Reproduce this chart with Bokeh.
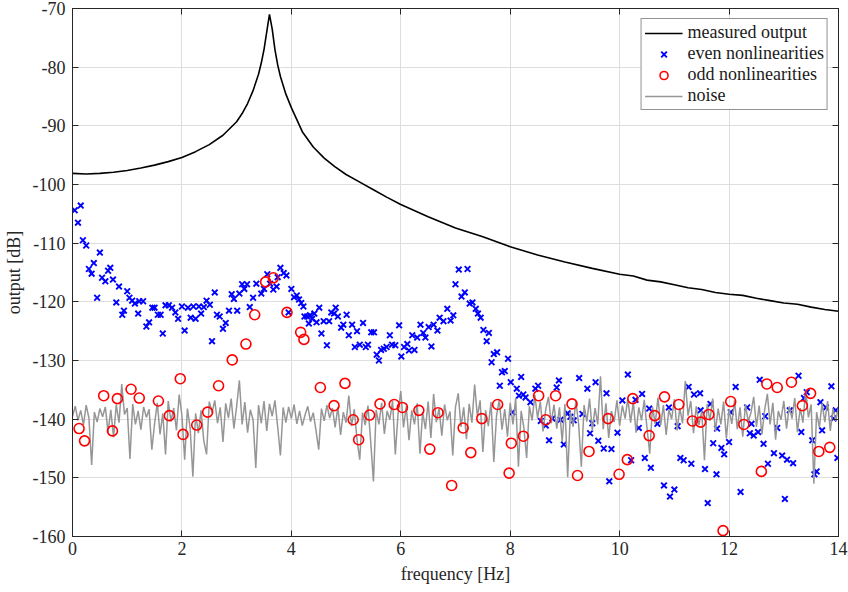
import numpy as np
from bokeh.plotting import figure
from bokeh.models import LinearAxis, Range1d, Legend, LegendItem, FixedTicker
from bokeh.embed import file_html
from bokeh.resources import INLINE

# ---------------- data ----------------
out_freq = [0.0, 0.25, 0.5, 0.75, 1.0, 1.25, 1.5, 1.75, 2.0, 2.25, 2.5, 2.75, 3.0, 3.1, 3.2, 3.3,
            3.4, 3.45, 3.5, 3.55, 3.6, 3.65, 3.7, 3.75, 3.8, 3.9, 4.0, 4.2, 4.4, 4.6, 4.8, 5.0,
            5.25, 5.5, 5.75, 6.0, 6.5, 7.0, 7.5, 8.0, 8.5, 9.0, 9.5, 10.0, 10.25, 10.5, 10.75,
            11.0, 11.25, 11.5, 11.75, 12.0, 12.25, 12.5, 12.75, 13.0, 13.25, 13.5, 13.75, 14.0]
out_db = [-98.1, -98.2, -98.1, -97.9, -97.6, -97.2, -96.7, -96.1, -95.4, -94.4, -93.2, -91.6,
          -89.3, -87.9, -86.2, -84.0, -81.2, -79.3, -77.0, -74.0, -71.0, -73.5, -77.0, -79.6,
          -81.6, -84.6, -86.9, -91.0, -93.6, -95.5, -97.0, -98.3, -99.6, -100.9, -102.2, -103.4,
          -105.5, -107.4, -108.9, -110.6, -112.0, -113.2, -114.3, -115.3, -115.6, -116.3, -116.6,
          -117.1, -117.6, -117.9, -118.4, -118.7, -118.9, -119.4, -119.8, -120.2, -120.4, -120.9,
          -121.3, -121.6]

even_freq = [0.04, 0.10, 0.15, 0.19, 0.25, 0.30, 0.35, 0.39, 0.45, 0.50, 0.54, 0.60, 0.65, 0.69,
             0.74, 0.80, 0.85, 0.91, 0.94, 1.00, 1.04, 1.09, 1.14, 1.20, 1.22, 1.29, 1.35, 1.40,
             1.46, 1.50, 1.56, 1.61, 1.65, 1.70, 1.76, 1.82, 1.88, 1.93, 2.00, 2.05, 2.11, 2.16,
             2.21, 2.25, 2.31, 2.35, 2.40, 2.45, 2.51, 2.55, 2.60, 2.64, 2.69, 2.75, 2.80, 2.86,
             2.91, 2.95, 3.01, 3.05, 3.10, 3.14, 3.19, 3.24, 3.30, 3.36, 3.45, 3.50, 3.56, 3.61,
             3.67, 3.73, 3.75, 3.80, 3.86, 3.91, 3.95, 4.00, 4.05, 4.10, 4.14, 4.18, 4.22, 4.24,
             4.29, 4.32, 4.34, 4.38, 4.42, 4.46, 4.51, 4.55, 4.59, 4.65, 4.69, 4.73, 4.78, 4.81,
             4.85, 4.91, 4.95, 5.01, 5.05, 5.11, 5.16, 5.20, 5.25, 5.31, 5.36, 5.40, 5.46, 5.51,
             5.56, 5.60, 5.64, 5.69, 5.74, 5.80, 5.84, 5.90, 5.97, 6.01, 6.06, 6.12, 6.15, 6.21,
             6.25, 6.30, 6.36, 6.41, 6.45, 6.51, 6.56, 6.60, 6.67, 6.71, 6.78, 6.85, 6.91, 6.96,
             7.00, 7.06, 7.11, 7.17, 7.22, 7.26, 7.31, 7.37, 7.41, 7.46, 7.51, 7.57, 7.61, 7.66,
             7.70, 7.76, 7.81, 7.85, 7.90, 7.96, 8.01, 8.04, 8.12, 8.16, 8.20, 8.24, 8.28, 8.37,
             8.46, 8.51, 8.56, 8.65, 8.71, 8.77, 8.85, 8.89, 8.92, 8.98, 9.05, 9.10, 9.16, 9.26,
             9.32, 9.41, 9.46, 9.50, 9.56, 9.61, 9.71, 9.76, 9.81, 9.85, 9.96, 10.05, 10.15, 10.21,
             10.29, 10.35, 10.41, 10.46, 10.54, 10.57, 10.69, 10.81, 10.90, 10.92, 11.00, 11.06,
             11.11, 11.17, 11.26, 11.31, 11.36, 11.47, 11.48, 11.56, 11.61, 11.66, 11.71, 11.77,
             11.78, 11.86, 11.91, 12.00, 12.03, 12.12, 12.21, 12.33, 12.38, 12.41, 12.45, 12.53,
             12.56, 12.63, 12.66, 12.71, 12.82, 12.88, 12.97, 13.02, 13.06, 13.11, 13.17, 13.27,
             13.32, 13.37, 13.42, 13.52, 13.56, 13.60, 13.67, 13.70, 13.77, 13.87, 13.91, 13.95,
             13.98]
even_db = [-104.4, -106.5, -103.6, -109.5, -110.4, -114.4, -115.2, -113.4, -119.3, -111.6, -115.9,
           -116.5, -114.7, -114.2, -116.2, -120.1, -117.4, -122.2, -121.5, -118.2, -119.3, -119.8,
           -120.3, -122.0, -119.9, -119.9, -124.2, -123.5, -121.0, -121.0, -122.2, -122.2, -125.4,
           -120.6, -120.6, -121.0, -121.8, -122.9, -120.8, -124.9, -121.0, -122.7, -120.8, -122.9,
           -120.8, -122.0, -120.9, -119.8, -120.5, -126.7, -118.4, -122.2, -122.5, -124.6, -123.6,
           -121.5, -118.7, -119.5, -121.5, -118.6, -117.0, -117.8, -117.0, -120.9, -119.3, -116.9,
           -118.6, -117.8, -115.3, -116.9, -117.9, -117.4, -115.8, -114.2, -115.1, -115.5, -121.8,
           -117.8, -119.2, -118.9, -119.6, -120.2, -120.8, -122.5, -122.5, -123.7, -122.3, -122.9,
           -122.0, -123.5, -121.0, -125.4, -123.3, -127.4, -123.3, -121.8, -122.0, -121.0, -122.5,
           -124.4, -123.9, -122.2, -125.7, -123.9, -127.7, -125.0, -127.3, -123.6, -127.7, -127.3,
           -125.2, -125.2, -129.0, -130.0, -128.2, -128.0, -127.7, -125.7, -127.3, -127.4, -124.0,
           -129.3, -127.7, -127.2, -128.3, -125.7, -128.2, -126.1, -123.9, -125.3, -126.1, -124.3,
           -127.6, -123.9, -124.9, -122.7, -123.3, -121.2, -123.2, -122.3, -117.0, -114.5, -119.1,
           -118.4, -114.4, -120.3, -120.1, -121.2, -122.0, -122.7, -124.8, -126.7, -125.3, -130.3,
           -128.9, -128.6, -134.3, -132.0, -131.8, -129.7, -133.7, -138.8, -134.8, -136.0, -132.8,
           -135.8, -136.3, -137.1, -134.8, -134.3, -140.3, -141.1, -143.6, -139.9, -134.6, -133.4,
           -140.1, -144.3, -139.0, -139.6, -140.2, -133.0, -139.1, -134.8, -142.4, -140.7, -133.7,
           -143.7, -145.0, -135.6, -150.6, -145.1, -142.3, -136.8, -132.4, -147.0, -136.7, -141.5,
           -135.7, -146.6, -138.2, -148.3, -140.8, -151.3, -138.0, -153.2, -152.0, -141.2, -146.6,
           -147.0, -134.5, -147.6, -135.8, -135.6, -138.5, -148.5, -154.3, -137.4, -144.1, -149.4,
           -141.6, -144.9, -146.0, -143.9, -138.8, -134.5, -152.4, -138.0, -142.4, -140.8, -142.8,
           -142.2, -133.3, -144.2, -139.5, -147.6, -145.8, -141.5, -146.2, -153.6, -146.9, -138.5,
           -147.5, -132.6, -142.2, -136.4, -135.4, -143.6, -149.4, -148.9, -137.1, -141.9, -138.0,
           -134.4, -139.9, -138.5, -146.6]

odd_freq = [0.12, 0.22, 0.57, 0.73, 0.82, 1.07, 1.22, 1.57, 1.77, 1.97, 2.02, 2.27, 2.47, 2.67,
            2.92, 3.17, 3.33, 3.53, 3.67, 3.92, 4.17, 4.23, 4.53, 4.78, 4.98, 5.13, 5.23, 5.43,
            5.62, 5.88, 6.03, 6.33, 6.53, 6.68, 6.93, 7.14, 7.28, 7.48, 7.77, 7.98, 8.02, 8.24,
            8.52, 8.65, 8.83, 9.13, 9.23, 9.44, 9.79, 9.99, 10.14, 10.24, 10.54, 10.64, 10.82,
            11.08, 11.33, 11.48, 11.63, 11.89, 12.03, 12.27, 12.59, 12.69, 12.88, 13.14, 13.34,
            13.49, 13.64, 13.84]
odd_db = [-141.6, -143.7, -136.0, -142.0, -136.5, -134.9, -136.4, -136.9, -139.4, -133.1, -142.6,
          -141.0, -138.8, -134.3, -129.9, -127.2, -122.2, -116.6, -115.9, -121.8, -125.2, -126.4,
          -134.6, -137.7, -133.9, -140.1, -143.5, -139.3, -137.4, -137.5, -138.0, -138.5, -145.1,
          -138.9, -151.3, -141.5, -145.7, -139.9, -137.5, -149.2, -144.1, -142.9, -136.0, -140.1,
          -136.0, -137.4, -149.6, -145.5, -139.9, -149.4, -146.9, -136.5, -142.8, -139.4, -136.2,
          -137.5, -140.3, -140.5, -139.2, -159.0, -137.0, -140.9, -148.9, -134.0, -134.6, -133.7,
          -137.7, -135.6, -145.5, -144.8]

# noise floor, one value every 0.05 Hz from 0 to 14 Hz
noise_db = [
    -139.5, -137.8, -140.2, -138.5, -141.0, -137.6, -139.8, -147.8, -138.8, -140.5,
    -138.2, -139.6, -137.9, -142.3, -138.4, -143.1, -137.5, -140.6, -134.0, -139.2,
    -138.1, -146.8, -137.4, -140.9, -138.6, -141.8, -137.9, -139.7, -138.3, -145.2,
    -140.8, -137.2, -142.6, -139.0, -146.0, -136.9, -140.4, -138.1, -141.9, -135.8,
    -139.4, -146.9, -138.2, -141.5, -149.8, -139.0, -142.4, -138.5, -143.7, -146.0,
    -137.0, -138.9, -136.8, -140.7, -138.0, -143.9, -137.3, -139.8, -136.5, -141.6,
    -137.8, -133.4, -140.9, -137.1, -142.3, -138.4, -140.1, -148.3, -137.6, -140.7,
    -136.9, -142.0, -137.4, -139.5, -136.8, -141.3, -146.2, -138.0, -140.6, -137.9,
    -139.9, -137.5, -140.8, -138.6, -141.1, -139.3, -137.8, -140.4, -138.9, -141.9,
    -145.2, -138.2, -140.3, -137.6, -139.8, -138.1, -141.4, -137.9, -142.7, -138.8,
    -140.6, -136.0, -141.2, -138.3, -143.5, -146.9, -138.9, -141.0, -137.7, -143.8,
    -150.6, -138.4, -140.9, -137.2, -142.5, -138.6, -140.1, -136.9, -146.0, -139.1,
    -135.2, -141.4, -137.8, -143.6, -138.5, -140.9, -137.3, -145.9, -138.8, -141.7,
    -137.0, -143.2, -135.7, -140.5, -138.2, -142.8, -137.5, -140.2, -138.7, -146.2,
    -137.9, -135.6, -141.3, -138.0, -143.4, -137.4, -140.6, -134.1, -139.6, -136.8,
    -145.6, -138.5, -141.2, -137.1, -147.3, -139.4, -136.7, -141.8, -138.3, -143.0,
    -137.2, -140.9, -136.4, -148.1, -138.6, -141.5, -146.6, -137.8, -140.2, -135.9,
    -139.8, -137.0, -142.1, -138.3, -136.2, -140.7, -137.5, -141.6, -138.0, -143.9,
    -137.4, -149.9, -138.7, -141.3, -136.9, -140.8, -148.1, -137.6, -140.4, -136.5,
    -142.0, -138.1, -140.9, -132.7, -141.7, -137.3, -143.2, -138.6, -140.5, -136.8,
    -141.1, -137.7, -139.9, -136.4, -140.6, -137.1, -142.3, -138.0, -140.2, -136.7,
    -141.5, -145.9, -137.9, -140.8, -136.3, -141.0, -137.6, -142.7, -138.4, -140.0,
    -136.6, -141.9, -138.1, -140.7, -133.5, -139.4, -136.9, -142.4, -137.8, -141.0,
    -138.6, -147.0, -137.4, -140.3, -136.5, -142.1, -138.2, -140.9, -137.0, -143.3,
    -138.3, -140.8, -136.8, -141.7, -138.0, -143.0, -137.5, -140.4, -138.9, -136.2,
    -141.3, -137.7, -142.6, -138.4, -135.7, -140.9, -137.2, -143.5, -138.6, -140.1,
    -136.9, -141.6, -137.8, -139.9, -136.4, -142.2, -138.1, -140.6, -135.1, -139.7,
    -137.5, -151.0, -138.8, -141.4, -137.3, -140.5, -136.9, -142.0, -138.2, -140.3,
    -137.9]
noise_freq = np.linspace(0.0, 14.0, len(noise_db))

x_ticks = [0, 2, 4, 6, 8, 10, 12, 14]
y_ticks = [-160, -150, -140, -130, -120, -110, -100, -90, -80, -70]
x_tick_labels = ["0", "2", "4", "6", "8", "10", "12", "14"]
y_tick_labels = ["-160", "-150", "-140", "-130", "-120", "-110", "-100", "-90", "-80", "-70"]

# ---------------- figure ----------------
FONT = "serif"
FS = "18px"
AX = "#262626"

p = figure(width=848, height=592, output_backend="svg", toolbar_location=None,
           x_range=Range1d(0, 14), y_range=Range1d(-160, -70),
           min_border_left=72, min_border_right=10, min_border_top=8, min_border_bottom=56,
           background_fill_color="white", border_fill_color="white")
p.outline_line_color = AX
p.outline_line_width = 1

for ax in (p.xaxis[0], p.yaxis[0]):
    ax.major_tick_in = 6
    ax.major_tick_out = 0
    ax.minor_tick_in = 0
    ax.minor_tick_out = 0
    ax.axis_line_color = AX
    ax.major_tick_line_color = AX
    ax.major_label_text_font = FONT
    ax.major_label_text_font_size = FS
    ax.major_label_text_color = "#262626"
    ax.axis_label_text_font = FONT
    ax.axis_label_text_font_size = FS
    ax.axis_label_text_font_style = "normal"
    ax.axis_label_text_color = "#262626"

p.xaxis[0].ticker = FixedTicker(ticks=x_ticks)
p.yaxis[0].ticker = FixedTicker(ticks=y_ticks)
p.xaxis[0].major_label_overrides = dict(zip(x_ticks, x_tick_labels))
p.yaxis[0].major_label_overrides = dict(zip(y_ticks, y_tick_labels))
p.xaxis[0].axis_label = "frequency [Hz]"
p.yaxis[0].axis_label = "output [dB]"
p.xaxis[0].major_label_standoff = 5
p.xaxis[0].axis_label_standoff = 6
p.yaxis[0].major_label_standoff = 7
p.yaxis[0].axis_label_standoff = 6

top_ax = LinearAxis(ticker=FixedTicker(ticks=x_ticks), major_tick_in=6, major_tick_out=0,
                    minor_tick_in=0, minor_tick_out=0, major_label_standoff=0,
                    major_label_overrides={t: "" for t in x_ticks},
                    axis_line_color=AX, major_tick_line_color=AX)
right_ax = LinearAxis(ticker=FixedTicker(ticks=y_ticks), major_tick_in=6, major_tick_out=0,
                      minor_tick_in=0, minor_tick_out=0, major_label_standoff=0,
                      major_label_overrides={t: "" for t in y_ticks},
                      axis_line_color=AX, major_tick_line_color=AX)
p.add_layout(top_ax, "above")
p.add_layout(right_ax, "right")

p.xgrid.ticker = FixedTicker(ticks=x_ticks)
p.ygrid.ticker = FixedTicker(ticks=y_ticks)
p.grid.grid_line_color = "#dedede"
p.grid.grid_line_width = 1

r_out = p.line(out_freq, out_db, line_color="black", line_width=1.6)
r_even = p.scatter(even_freq, even_db, marker="x", size=8, line_color="#0000ff", line_width=1.9)
r_noise = p.line(noise_freq, noise_db, line_color="#969696", line_width=1.5)
r_odd = p.scatter(odd_freq, odd_db, marker="circle", size=10, line_color="#ff0000",
                  fill_color=None, line_width=1.6)

legend = Legend(items=[
    LegendItem(label="measured output", renderers=[r_out]),
    LegendItem(label="even nonlinearities", renderers=[r_even]),
    LegendItem(label="odd nonlinearities", renderers=[r_odd]),
    LegendItem(label="noise", renderers=[r_noise]),
], location="top_right")
legend.label_text_font = FONT
legend.label_text_font_size = FS
legend.label_text_color = "#1a1a1a"
legend.border_line_color = AX
legend.border_line_width = 1
legend.background_fill_alpha = 1
legend.glyph_width = 38
legend.glyph_height = 20
legend.label_height = 20
legend.spacing = 0
legend.padding = 3
legend.margin = 10
legend.label_standoff = 5
p.add_layout(legend)

open("out.html", "w").write(file_html(p, INLINE))
